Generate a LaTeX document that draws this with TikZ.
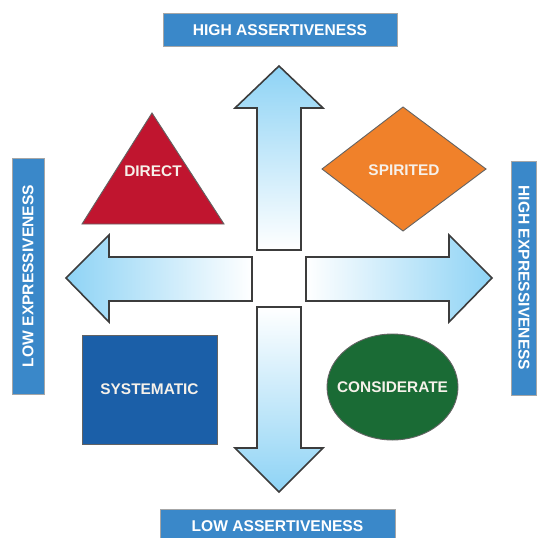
\documentclass[tikz,border=0pt]{standalone}
\usepackage{fontspec}
\setmainfont{Liberation Sans}
\definecolor{axisblue}{HTML}{3A88C9}
\definecolor{arrowblue}{HTML}{8ED3F5}
\definecolor{directred}{HTML}{C0152F}
\definecolor{spiritorange}{HTML}{F0812A}
\definecolor{considgreen}{HTML}{1A6B35}
\definecolor{systblue}{HTML}{1B5FA8}
\definecolor{edgegray}{HTML}{3C3C3C}
\definecolor{labeltext}{HTML}{F6F1EA}
\tikzset{
  axislabel/.style={fill=axisblue, draw=gray!70, line width=0.8pt, text=white,
    font=\fontsize{15.6}{15.6}\selectfont\bfseries, inner sep=0pt, anchor=center},
  bigarrow/.style={draw=edgegray, line width=1.6pt, line join=miter},
  shapeedge/.style={draw=edgegray!80, line width=0.9pt},
  stylebox/.style={text=labeltext,
    font=\fontsize{15.4}{15.4}\selectfont\bfseries, inner sep=0pt},
}
\begin{document}
\begin{tikzpicture}[x=1pt,y=-1pt]
\useasboundingbox (0,0) rectangle (537,538);

% axis captions
\node[axislabel, minimum width=234pt, minimum height=33pt] (hiass) at (280,30) {HIGH ASSERTIVENESS};
\node[axislabel, minimum width=235pt, minimum height=34pt] (loass) at (277.5,526) {LOW ASSERTIVENESS};
\node[axislabel, minimum width=236pt, minimum height=32pt, rotate=90] (loexp) at (28,276) {LOW EXPRESSIVENESS};
\node[axislabel, minimum width=234pt, minimum height=25pt, rotate=-90] (hiexp) at (524,278) {HIGH EXPRESSIVENESS};

% four arrows radiating from the centre
\path[bigarrow, top color=arrowblue, bottom color=white]
  (257,250) -- (257,108) -- (235,108) -- (279,66) -- (323,108) -- (301,108) -- (301,250) -- cycle;
\path[bigarrow, bottom color=arrowblue, top color=white]
  (257,307) -- (257,448) -- (235,448) -- (279,492) -- (323,448) -- (301,448) -- (301,307) -- cycle;
\path[bigarrow, left color=arrowblue, right color=white]
  (252,257) -- (109,257) -- (109,235) -- (66,278) -- (109,322) -- (109,301) -- (252,301) -- cycle;
\path[bigarrow, right color=arrowblue, left color=white]
  (306,257) -- (449,257) -- (449,235) -- (492,278) -- (449,322) -- (449,301) -- (306,301) -- cycle;

% quadrant styles
\path[shapeedge, fill=directred] (152,113) -- (82,224) -- (224,224) -- cycle;
\node[stylebox] (direct) at (153,171) {DIRECT};

\path[shapeedge, fill=spiritorange] (403,107) -- (486,169) -- (403,231) -- (322,169) -- cycle;
\node[stylebox] (spirited) at (404,170) {SPIRITED};

\path[shapeedge, fill=systblue] (82,335) rectangle (217,444);
\node[stylebox] (systematic) at (149.5,389) {SYSTEMATIC};

\path[shapeedge, fill=considgreen] (392.5,387) ellipse [x radius=65.5pt, y radius=53pt];
\node[stylebox] (considerate) at (392.5,387) {CONSIDERATE};
\end{tikzpicture}
\end{document}
